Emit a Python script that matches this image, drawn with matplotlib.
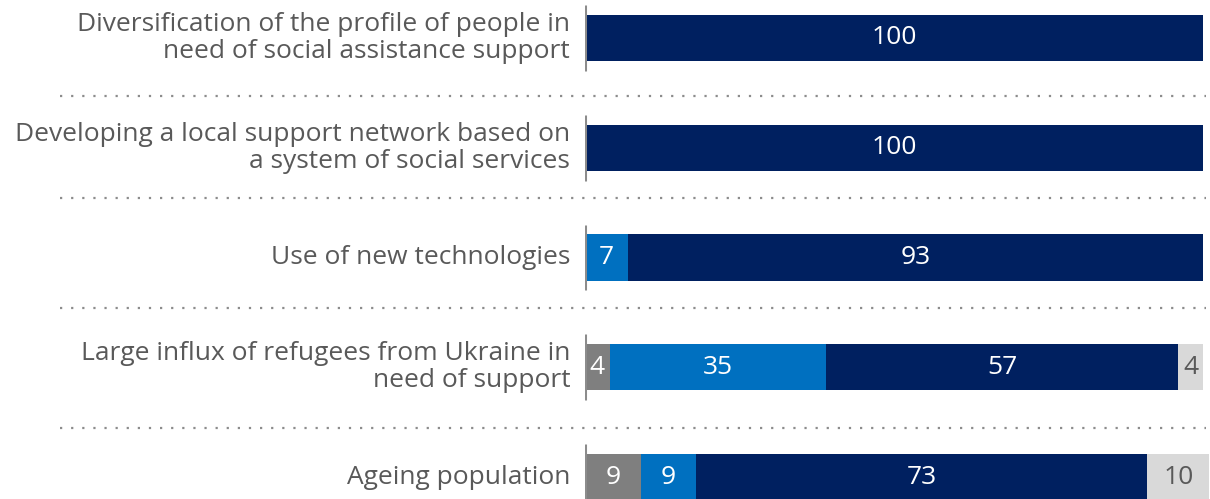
import matplotlib
matplotlib.use("Agg")
import matplotlib.pyplot as plt

categorias = [
    "Diversification of the profile of people in\nneed of social assistance support",
    "Developing a local support network based on\na system of social services",
    "Use of new technologies",
    "Large influx of refugees from Ukraine in\nneed of support",
    "Ageing population",
]
serie_cinza = [0, 0, 0, 4, 9]
serie_azul = [0, 0, 7, 35, 9]
serie_marinho = [100, 100, 93, 57, 73]
serie_clara = [0, 0, 0, 4, 10]

cores = ["#7f7f7f", "#0070c0", "#002060", "#d9d9d9"]
cores_texto = ["white", "white", "white", "#595959"]
cor_rotulo = "#595959"

plt.rcParams["font.family"] = ["Open Sans", "DejaVu Sans"]

fig = plt.figure(figsize=(12.1, 4.99), dpi=100)
ax = fig.add_axes([585 / 1210, 0, 618 / 1210, 1])

linhas = list(range(len(categorias)))
esquerda = [0] * len(categorias)
for serie, cor, cor_txt in zip([serie_cinza, serie_azul, serie_marinho, serie_clara], cores, cores_texto):
    ax.barh(linhas, serie, left=esquerda, height=0.42, color=cor, clip_on=False)
    for i, v in enumerate(serie):
        if v > 0:
            ax.text(esquerda[i] + v / 2, i, str(v), ha="center", va="center",
                    color=cor_txt, fontsize=19)
    esquerda = [e + v for e, v in zip(esquerda, serie)]

# linha do eixo em cada barra
ax.vlines([0] * len(linhas), [i - 0.3 for i in linhas], [i + 0.3 for i in linhas],
          color="#8c8c8c", lw=2.2, zorder=3)

# separadores pontilhados
for y in [0.53, 1.46, 2.46, 3.55]:
    ax.plot([-85, 100.5], [y, y], color="#8c8c8c", lw=1.6, ls=(0, (1, 4)),
            clip_on=False)

for i, nome in enumerate(categorias):
    ax.text(-2.4, i, nome, ha="right", va="center", color=cor_rotulo,
            fontsize=19, linespacing=1.1)

ax.set_xlim(0, 100)
ax.set_ylim(4.2, -0.346)
ax.axis("off")

fig.savefig("out.png", dpi=100)
